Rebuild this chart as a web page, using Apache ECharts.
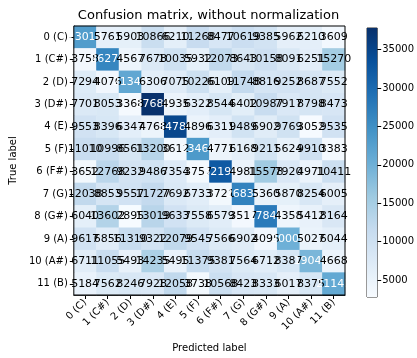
<!DOCTYPE html>
<html>
<head>
<meta charset="utf-8">
<script src="https://cdn.jsdelivr.net/npm/echarts@6/dist/echarts.min.js"></script>
<style>
  html, body { margin: 0; padding: 0; background: #fff; }
  #chart { width: 417px; height: 358px; }
</style>
</head>
<body>
<div id="chart"></div>
<script>
// labels of both axes
var classLabels = ['0 (C)', '1 (C#)', '2 (D)', '3 (D#)', '4 (E)', '5 (F)', '6 (F#)', '7 (G)', '8 (G#)', '9 (A)', '10 (A#)', '11 (B)'];

// confusion matrix, one row per true label
var row0  = [23013, 5761, 5903, 10866, 6210, 11268, 8477, 10619, 9385, 5962, 6210, 3609];
var row1  = [3758, 26274, 4567, 7678, 10035, 5932, 12073, 8643, 10158, 8091, 6251, 15270];
var row2  = [7294, 4076, 21340, 6306, 7075, 10226, 6109, 11748, 8816, 9252, 8687, 7552];
var row3  = [7701, 8053, 3368, 37683, 4935, 6322, 8544, 6402, 10987, 7917, 8798, 8473];
var row4  = [9553, 8396, 6347, 4768, 34784, 4896, 6311, 9489, 6902, 9769, 3052, 9535];
var row5  = [11010, 10996, 8561, 13200, 3612, 23465, 4771, 6168, 9211, 5624, 9910, 3383];
var row6  = [3652, 12768, 9232, 9486, 7354, 3757, 32194, 4981, 15578, 7920, 4971, 10411];
var row7  = [12038, 8853, 9557, 11727, 7692, 6733, 3721, 26834, 5360, 5870, 8254, 6005];
var row8  = [6040, 13602, 2895, 13019, 9633, 7558, 6579, 3517, 27843, 4358, 5412, 8164];
var row9  = [9617, 6856, 11310, 9322, 12079, 9545, 7566, 6902, 4095, 20005, 5027, 6044];
var row10 = [6711, 11055, 5493, 14235, 5495, 11375, 9381, 7564, 6712, 8387, 19043, 4668];
var row11 = [5184, 7562, 8246, 7928, 12058, 3738, 10568, 8423, 8333, 6017, 8375, 21142];
var matrix = [row0, row1, row2, row3, row4, row5, row6, row7, row8, row9, row10, row11];

// colour bar range and ticks
var colorMin = 2800;
var colorMax = 37800;
var colorTicks = [5000, 10000, 15000, 20000, 25000, 30000, 35000];

var blues = ['#f7fbff', '#deebf7', '#c6dbef', '#9ecae1', '#6baed6', '#4292c6', '#2171b5', '#08519c', '#08306b'];
var font = 'DejaVu Sans';

var maxVal = 0;
matrix.forEach(function (r) { r.forEach(function (v) { if (v > maxVal) maxVal = v; }); });
var thresh = maxVal / 2;

var heatData = [];
for (var i = 0; i < matrix.length; i++) {
  for (var j = 0; j < matrix[i].length; j++) {
    var v = matrix[i][j];
    heatData.push({
      value: [j, i, v],
      label: { color: v > thresh ? '#ffffff' : '#000000' }
    });
  }
}

var chart = echarts.init(document.getElementById('chart'));

var option = {
  animation: false,
  backgroundColor: '#ffffff',
  textStyle: { fontFamily: font },
  title: {
    text: 'Confusion matrix, without normalization',
    left: 'center',
    top: 4,
    textStyle: { fontFamily: font, fontSize: 13, fontWeight: 'normal', color: '#000' }
  },
  grid: [
    { left: 71, top: 26, width: 274, height: 271, show: true, borderColor: '#000', borderWidth: 1, backgroundColor: 'transparent', z: 10 },
    { left: 367, top: 28, width: 15, height: 269, show: true, borderColor: '#333', borderWidth: 1, backgroundColor: 'transparent' }
  ],
  visualMap: {
    show: false,
    type: 'continuous',
    seriesIndex: 0,
    min: colorMin,
    max: colorMax,
    inRange: { color: blues }
  },
  xAxis: [
    {
      type: 'category',
      gridIndex: 0,
      data: classLabels,
      name: 'Predicted label',
      nameLocation: 'middle',
      nameGap: 48,
      nameTextStyle: { fontFamily: font, fontSize: 10, color: '#000' },
      axisLine: { show: true, lineStyle: { color: '#000' } },
      axisTick: { show: true, alignWithLabel: true, length: 4, lineStyle: { color: '#000' } },
      axisLabel: { rotate: 45, fontFamily: font, fontSize: 10, color: '#000', margin: 6, interval: 0 },
      splitLine: { show: false },
      splitArea: { show: false }
    },
    {
      type: 'category',
      gridIndex: 1,
      data: ['cb'],
      show: false
    }
  ],
  yAxis: [
    {
      type: 'category',
      gridIndex: 0,
      inverse: true,
      data: classLabels,
      name: 'True label',
      nameLocation: 'middle',
      nameGap: 52,
      nameRotate: 90,
      nameTextStyle: { fontFamily: font, fontSize: 10, color: '#000' },
      axisLine: { show: true, lineStyle: { color: '#000' } },
      axisTick: { show: true, alignWithLabel: true, length: 4, lineStyle: { color: '#000' } },
      axisLabel: { fontFamily: font, fontSize: 10, color: '#000', margin: 6, interval: 0 },
      splitLine: { show: false },
      splitArea: { show: false }
    },
    {
      type: 'value',
      gridIndex: 1,
      position: 'right',
      min: colorMin,
      max: colorMax,
      axisLine: { show: false },
      axisTick: { show: true, length: 4, customValues: colorTicks, lineStyle: { color: '#000' } },
      axisLabel: {
        show: true,
        customValues: colorTicks,
        fontFamily: font,
        fontSize: 10,
        color: '#000',
        margin: 5,
        formatter: function (val) { return String(val); }
      },
      splitLine: { show: false }
    }
  ],
  series: [
    {
      type: 'heatmap',
      xAxisIndex: 0,
      yAxisIndex: 0,
      data: heatData,
      label: { show: true, fontFamily: font, fontSize: 11 },
      itemStyle: { borderWidth: 0 },
      emphasis: { disabled: true }
    },
    {
      type: 'bar',
      xAxisIndex: 1,
      yAxisIndex: 1,
      barWidth: '100%',
      data: [colorMax],
      silent: true,
      itemStyle: {
        color: new echarts.graphic.LinearGradient(0, 1, 0, 0, blues.map(function (c, k) {
          return { offset: k / (blues.length - 1), color: c };
        }))
      }
    }
  ]
};

chart.setOption(option);
</script>
</body>
</html>
